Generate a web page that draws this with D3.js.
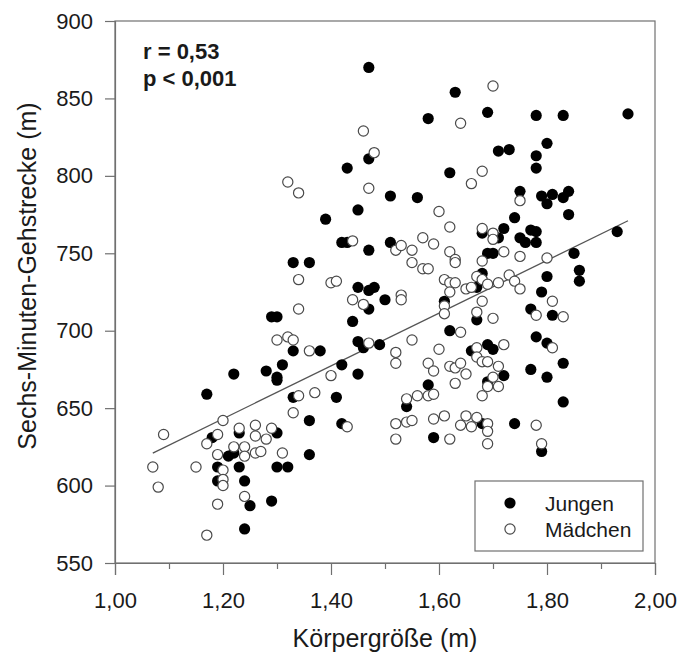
<!DOCTYPE html>
<html>
<head>
<meta charset="utf-8"/>
<title>Sechs-Minuten-Gehstrecke</title>
<script src="https://cdn.jsdelivr.net/npm/d3@7"></script>
<style>
html, body {
    margin: 0;
    padding: 0;
    background: #fff;
}
svg text {
    font-family: "Liberation Sans", Arial, sans-serif;
    fill: #1a1a1a;
}
</style>
</head>
<body>
<svg id="chart" width="680" height="657"></svg>
<script>

// Jungen: [Körpergröße (m), Gehstrecke (m)]
var jungen = [
  [1.47,870],[1.63,854],[1.69,841],[1.58,837],[1.78,839],[1.83,839],[1.95,840],
  [1.71,816],[1.73,817],[1.80,821],[1.78,813],[1.47,811],[1.43,805],[1.62,802],
  [1.78,805],[1.51,787],[1.56,786],[1.75,790],[1.79,787],[1.81,788],[1.80,782],
  [1.83,786],[1.84,790],[1.45,778],[1.39,772],[1.84,775],[1.74,773],[1.72,766],
  [1.68,763],[1.71,760],[1.75,760],[1.77,765],[1.78,764],[1.76,757],[1.78,757],
  [1.93,764],[1.42,757],[1.43,757],[1.47,752],[1.51,757],[1.69,750],[1.70,750],
  [1.85,750],[1.33,744],[1.36,744],[1.86,739],[1.86,732],[1.80,735],[1.68,737],
  [1.45,728],[1.47,726],[1.48,728],[1.67,728],[1.79,725],[1.50,720],[1.47,714],
  [1.61,719],[1.77,714],[1.81,710],[1.29,709],[1.30,709],[1.44,706],[1.67,707],
  [1.62,700],[1.45,693],[1.46,689],[1.49,691],[1.78,696],[1.80,692],[1.66,687],
  [1.69,691],[1.70,688],[1.33,687],[1.38,687],[1.31,678],[1.42,678],[1.83,679],
  [1.22,672],[1.28,674],[1.30,670],[1.30,668],[1.45,672],[1.72,671],[1.69,667],
  [1.77,675],[1.80,670],[1.58,665],[1.17,659],[1.33,657],[1.41,657],[1.83,654],
  [1.54,651],[1.36,642],[1.42,640],[1.68,640],[1.74,640],[1.18,631],[1.23,634],
  [1.30,634],[1.59,631],[1.21,619],[1.22,621],[1.36,620],[1.79,622],[1.19,612],
  [1.23,612],[1.30,612],[1.32,612],[1.19,603],[1.24,603],[1.25,587],[1.29,590],
  [1.24,572]
];

// Mädchen: [Körpergröße (m), Gehstrecke (m)]
var maedchen = [
  [1.70,858],[1.64,834],[1.46,829],[1.48,815],[1.68,803],[1.66,795],[1.47,792],
  [1.32,796],[1.34,789],[1.75,784],[1.60,777],[1.62,767],[1.68,766],[1.70,763],
  [1.70,759],[1.57,760],[1.59,756],[1.44,758],[1.52,752],[1.53,755],[1.55,752],
  [1.62,751],[1.72,751],[1.75,748],[1.80,747],[1.63,746],[1.63,744],[1.68,745],
  [1.55,744],[1.57,740],[1.58,740],[1.34,733],[1.40,731],[1.41,732],[1.61,733],
  [1.62,731],[1.63,731],[1.62,725],[1.65,727],[1.66,728],[1.67,735],[1.68,733],
  [1.69,730],[1.71,731],[1.73,736],[1.74,732],[1.75,727],[1.44,720],[1.46,717],
  [1.53,723],[1.53,720],[1.68,719],[1.81,719],[1.34,714],[1.61,716],[1.61,711],
  [1.67,712],[1.70,708],[1.78,710],[1.83,709],[1.64,699],[1.30,694],[1.32,696],
  [1.33,694],[1.47,692],[1.55,694],[1.36,687],[1.52,686],[1.52,679],[1.60,688],
  [1.67,689],[1.72,691],[1.81,689],[1.67,683],[1.68,680],[1.69,680],[1.58,679],
  [1.59,674],[1.62,677],[1.63,676],[1.64,679],[1.65,672],[1.63,666],[1.71,677],
  [1.70,670],[1.69,664],[1.71,664],[1.68,658],[1.40,671],[1.37,660],[1.34,658],
  [1.58,658],[1.59,659],[1.56,658],[1.54,656],[1.33,647],[1.20,642],[1.43,638],
  [1.52,640],[1.54,641],[1.55,642],[1.59,643],[1.61,645],[1.65,645],[1.67,644],
  [1.64,639],[1.66,638],[1.69,640],[1.69,635],[1.78,639],[1.52,630],[1.62,630],
  [1.69,627],[1.79,627],[1.09,633],[1.17,627],[1.19,633],[1.23,637],[1.26,639],
  [1.26,632],[1.29,637],[1.28,630],[1.19,620],[1.22,625],[1.24,625],[1.24,619],
  [1.26,621],[1.27,622],[1.31,621],[1.07,612],[1.15,612],[1.20,610],[1.20,604],
  [1.20,600],[1.08,599],[1.19,588],[1.24,593],[1.17,568]
];

// Regressionsgerade (Endpunkte)
var fitX = [1.07, 1.95];
var fitY = [621, 771];

var xTicks = [1.0, 1.2, 1.4, 1.6, 1.8, 2.0];
var xMinorTicks = [1.1, 1.3, 1.5, 1.7, 1.9];
var yTicks = [550, 600, 650, 700, 750, 800, 850, 900];

var seriesNames = ["Jungen", "Mädchen"];

// Layout
const plot = {left: 115, right: 655, top: 21, bottom: 563};
const axisColor = "#707070";
const fmt = d3.format(".2f");

var svg = d3.select("#chart");

var x = d3.scaleLinear().domain([1.0, 2.0]).range([plot.left, plot.right]);
var y = d3.scaleLinear().domain([550, 900]).range([plot.bottom, plot.top]);

// Frame
svg.append("rect")
    .attr("x", plot.left).attr("y", plot.top)
    .attr("width", plot.right - plot.left).attr("height", plot.bottom - plot.top)
    .attr("fill", "none")
    .attr("stroke", axisColor)
    .attr("stroke-width", 1.2);

// X axis, major and minor ticks
svg.append("g")
    .attr("transform", "translate(0," + plot.bottom + ")")
    .call(d3.axisBottom(x).tickValues(xTicks).tickSize(12).tickPadding(17)
        .tickFormat(d => fmt(d).replace(".", ",")));
svg.append("g")
    .attr("transform", "translate(0," + plot.bottom + ")")
    .call(d3.axisBottom(x).tickValues(xMinorTicks).tickSize(6).tickFormat(""))
    .call(g => g.select(".domain").remove());

// Y axis
svg.append("g")
    .attr("transform", "translate(" + plot.left + ",0)")
    .call(d3.axisLeft(y).tickValues(yTicks).tickSize(10).tickPadding(12));

svg.selectAll(".domain").attr("stroke", axisColor).attr("stroke-width", 1.2);
svg.selectAll(".tick line").attr("stroke", axisColor).attr("stroke-width", 1.2);
svg.selectAll(".tick text")
    .attr("font-family", "Liberation Sans, Arial, sans-serif")
    .attr("font-size", 22)
    .attr("fill", "#1a1a1a");

// Axis titles
svg.append("text")
    .attr("x", (plot.left + plot.right) / 2)
    .attr("y", 647)
    .attr("text-anchor", "middle")
    .attr("font-size", 25)
    .text("Körpergröße (m)");

svg.append("text")
    .attr("transform", "translate(36,276) rotate(-90)")
    .attr("text-anchor", "middle")
    .attr("font-size", 25)
    .text("Sechs-Minuten-Gehstrecke (m)");

// Regression line
var line = d3.line().x(d => x(d[0])).y(d => y(d[1]));
svg.append("path")
    .attr("d", line(fitX.map((v, i) => [v, fitY[i]])))
    .attr("fill", "none")
    .attr("stroke", "#555")
    .attr("stroke-width", 1.3);

// Points
const r = 5.6;
svg.append("g").selectAll("circle")
    .data(jungen)
    .enter().append("circle")
    .attr("cx", d => x(d[0]))
    .attr("cy", d => y(d[1]))
    .attr("r", r)
    .attr("fill", "#000");

svg.append("g").selectAll("circle")
    .data(maedchen)
    .enter().append("circle")
    .attr("cx", d => x(d[0]))
    .attr("cy", d => y(d[1]))
    .attr("r", r - 0.5)
    .attr("fill", "#fff")
    .attr("stroke", "#4a4a4a")
    .attr("stroke-width", 1.2);

// Statistik
svg.append("text")
    .attr("x", 143).attr("y", 59)
    .attr("font-size", 22).attr("font-weight", "bold")
    .text("r = 0,53");
svg.append("text")
    .attr("x", 143).attr("y", 86)
    .attr("font-size", 22).attr("font-weight", "bold")
    .text("p < 0,001");

// Legend
var legend = svg.append("g");
legend.append("rect")
    .attr("x", 475).attr("y", 481)
    .attr("width", 168).attr("height", 70)
    .attr("fill", "#fff")
    .attr("stroke", axisColor)
    .attr("stroke-width", 1.2);
seriesNames.forEach(function(name, i) {
    var cy = 503 + i * 26;
    legend.append("circle")
        .attr("cx", 510).attr("cy", cy)
        .attr("r", i == 0 ? r : r - 0.5)
        .attr("fill", i == 0 ? "#000" : "#fff")
        .attr("stroke", i == 0 ? "none" : "#4a4a4a")
        .attr("stroke-width", 1.2);
    legend.append("text")
        .attr("x", 545).attr("y", cy + 8)
        .attr("font-size", 21)
        .text(name);
});

</script>
</body>
</html>
